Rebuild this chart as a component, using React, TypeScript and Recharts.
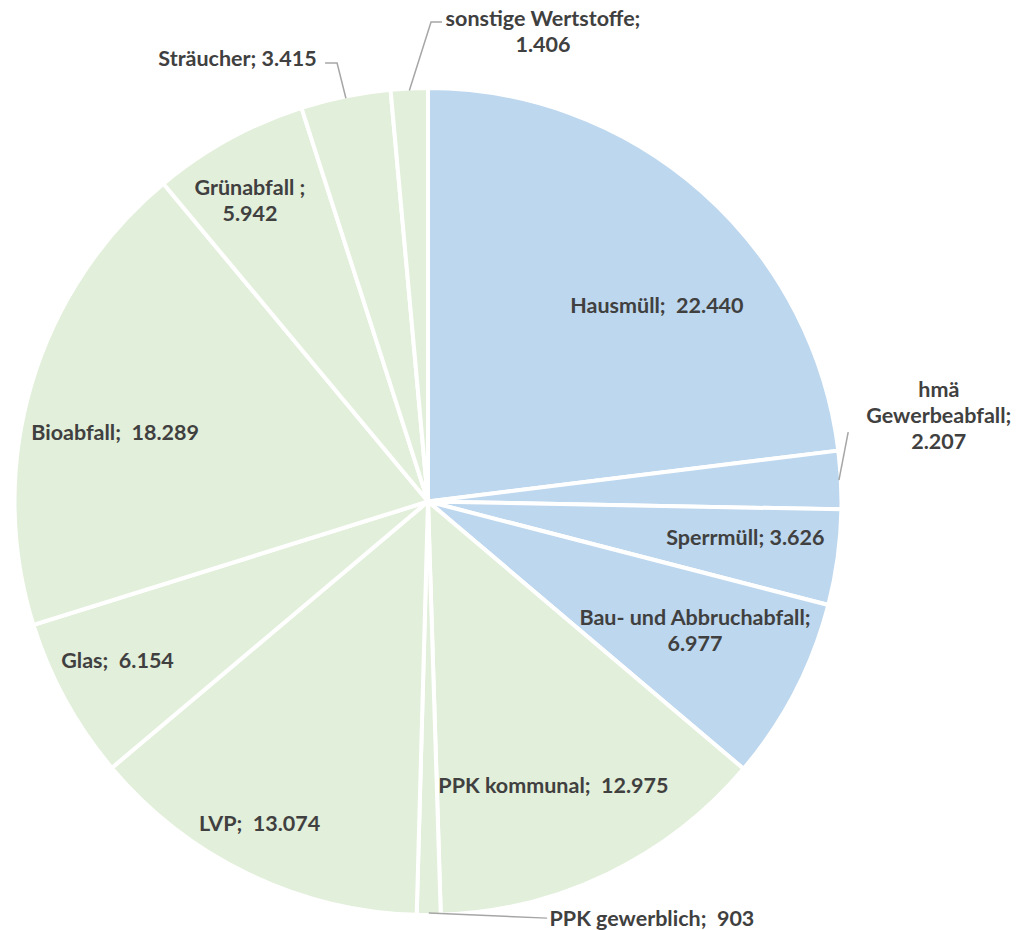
import { PieChart, Pie, Cell } from "recharts";

// Abfallmengen (t) – im Uhrzeigersinn ab 12 Uhr
const categories = [
  "Hausmüll",
  "hmä Gewerbeabfall",
  "Sperrmüll",
  "Bau- und Abbruchabfall",
  "PPK kommunal",
  "PPK gewerblich",
  "LVP",
  "Glas",
  "Bioabfall",
  "Grünabfall ",
  "Sträucher",
  "sonstige Wertstoffe",
];

const values = [22440, 2207, 3626, 6977, 12975, 903, 13074, 6154, 18289, 5942, 3415, 1406];

// Restabfall-Gruppe wird blau gezeichnet, Wertstoffe grün
const restCategories = ["Hausmüll", "hmä Gewerbeabfall", "Sperrmüll", "Bau- und Abbruchabfall"];

const BLUE = "#BDD7EE";
const GREEN = "#E2EFDA";
const TEXT = "#404040";
const STROKE = 4;
const FONT_SIZE = 21.5;
const LINE_H = 26;

type Place = {
  dAngle: number; // Grad im Uhrzeigersinn relativ zur Segmentmitte
  r: number; // Anteil am Radius
  sep?: string;
  wrap?: "value" | "words";
  leader?: { dAngle: number; r: number; tail: number };
};

const placement: Place[] = [
  { dAngle: 7.9, r: 0.733, sep: "  " },
  { dAngle: -6.62, r: 1.259, wrap: "words", leader: { dAngle: -6.4, r: 1.035, tail: 0 } },
  { dAngle: -1.4, r: 0.776 },
  { dAngle: -1.7, r: 0.72, wrap: "value" },
  { dAngle: 1.87, r: 0.753, sep: "  " },
  { dAngle: -28.17, r: 1.149, sep: "  ", leader: { dAngle: -15.85, r: 1.053, tail: 0 } },
  { dAngle: 1.93, r: 0.882, sep: "  " },
  { dAngle: 1.7, r: 0.847, sep: "  " },
  { dAngle: -3.9, r: 0.779, sep: "  " },
  { dAngle: -1.76, r: 0.851, wrap: "value" },
  { dAngle: -11.74, r: 1.173, leader: { dAngle: -0.21, r: 1.088, tail: -12 } },
  { dAngle: 16.35, r: 1.176, wrap: "value", leader: { dAngle: 2.96, r: 1.165, tail: 11 } },
];

const data = categories.map((name, i) => ({ name, value: values[i] }));

const fmt = (v: number) => String(v).replace(/\B(?=(\d{3})+(?!\d))/g, ".");

function labelLines(index: number, p: Place): string[] {
  const name = categories[index];
  const val = fmt(values[index]);
  if (p.wrap === "words") {
    const words = name.split(" ");
    return [...words.slice(0, -1), `${words[words.length - 1]};`, val];
  }
  if (p.wrap === "value") return [`${name};`, val];
  return [`${name};${p.sep ?? " "}${val}`];
}

function renderLabel(props: any) {
  const { cx, cy, midAngle, outerRadius, index } = props;
  const p = placement[index];
  const R = outerRadius - STROKE / 2;
  const base = 90 - midAngle;
  const pt = (deg: number, f: number) => {
    const a = (deg * Math.PI) / 180;
    return [cx + R * f * Math.sin(a), cy - R * f * Math.cos(a)];
  };
  const [tx, ty] = pt(base + p.dAngle, p.r);
  const lines = labelLines(index, p);
  const top = ty - ((lines.length - 1) * LINE_H) / 2 + FONT_SIZE * 0.36;

  let leader = null;
  if (p.leader) {
    const [x0, y0] = pt(base, 1);
    const [x1, y1] = pt(base + p.leader.dAngle, p.leader.r);
    leader = (
      <polyline
        points={`${x0},${y0} ${x1},${y1} ${x1 + p.leader.tail},${y1}`}
        fill="none"
        stroke="#A6A6A6"
        strokeWidth={1.5}
      />
    );
  }

  return (
    <g key={`label-${index}`}>
      {leader}
      <text
        x={tx}
        y={top}
        textAnchor="middle"
        fill={TEXT}
        fontFamily="Lato, sans-serif"
        fontWeight={700}
        fontSize={FONT_SIZE}
        style={{ whiteSpace: "pre" }}
      >
        {lines.map((l, i) => (
          <tspan key={i} x={tx} y={top + i * LINE_H}>
            {l}
          </tspan>
        ))}
      </text>
    </g>
  );
}

export default function App() {
  return (
    <div style={{ position: "absolute", left: 0, top: 0, width: 1017, height: 930, background: "#fff" }}>
      <PieChart width={1017} height={930} margin={{ top: 0, right: 0, bottom: 0, left: 0 }}>
        <Pie
          data={data}
          dataKey="value"
          nameKey="name"
          cx={428}
          cy={501.5}
          outerRadius={411.5 + STROKE / 2}
          startAngle={90}
          endAngle={-270}
          stroke="#FFFFFF"
          strokeWidth={STROKE}
          labelLine={false}
          label={renderLabel}
          isAnimationActive={false}
        >
          {data.map((d) => (
            <Cell key={d.name} fill={restCategories.includes(d.name) ? BLUE : GREEN} />
          ))}
        </Pie>
      </PieChart>
    </div>
  );
}
